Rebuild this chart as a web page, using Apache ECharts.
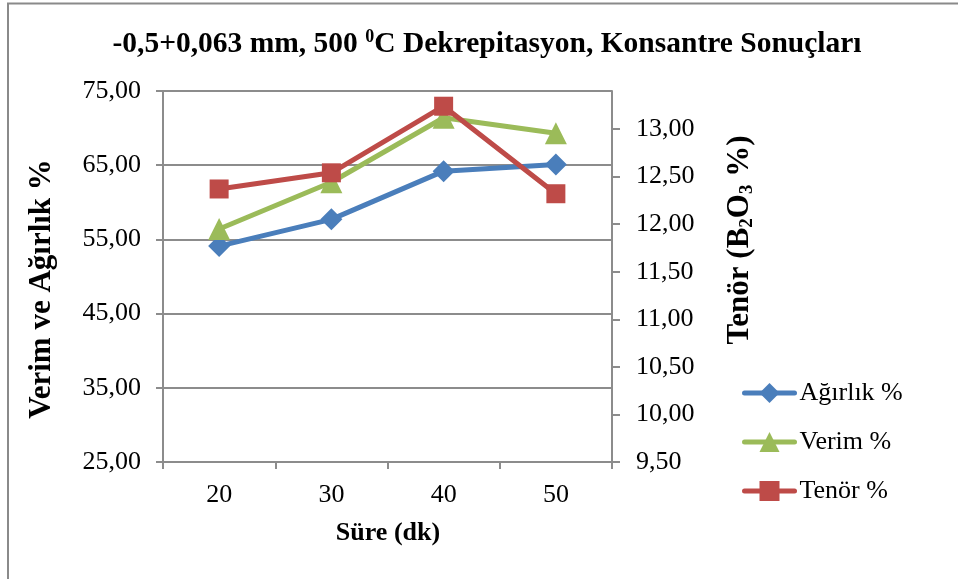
<!DOCTYPE html>
<html>
<head>
<meta charset="utf-8">
<script src="https://cdn.jsdelivr.net/npm/echarts@6/dist/echarts.min.js"></script>
<style>
  html, body { margin: 0; padding: 0; background: #fff; }
  #chart { width: 958px; height: 579px; }
</style>
</head>
<body>
<div id="chart"></div>
<script>
const categories = ['20', '30', '40', '50'];
const agirlik = [54.1, 57.7, 64.2, 65.1];
const verim = [56.4, 62.7, 71.4, 69.3];
const tenor = [12.37, 12.54, 13.24, 12.32];
const leftTicks = [25, 35, 45, 55, 65, 75];
const rightTicks = [9.5, 10, 10.5, 11, 11.5, 12, 12.5, 13];

const FONT = '"Liberation Serif", "Times New Roman", serif';
const fmt = v => Number(v).toFixed(2).replace('.', ',');

const chart = echarts.init(document.getElementById('chart'));
chart.setOption({
  backgroundColor: '#ffffff',
  animation: false,
  textStyle: { fontFamily: FONT },
  grid: { left: 163, right: 346, top: 91, bottom: 117, containLabel: false },
  graphic: [
    { type: 'rect', shape: { x: 8, y: 3.5, width: 1200, height: 1200 }, style: { fill: 'none', stroke: '#8a8a8a', lineWidth: 2 }, silent: true },
    { type: 'text', x: 487, y: 44, style: {
        text: '-0,5+0,063 mm, 500 {sup|0}C Dekrepitasyon, Konsantre Sonuçları',
        font: 'bold 29.5px ' + FONT, fill: '#000', align: 'center', verticalAlign: 'middle',
        rich: { sup: { font: 'bold 18px ' + FONT, fill: '#000', verticalAlign: 'top', padding: [0, 0, 14, 0] } }
      } },
    { type: 'text', x: 42, y: 289, rotation: Math.PI / 2, style: {
        text: 'Verim ve Ağırlık %', font: 'bold 31px ' + FONT, fill: '#000', align: 'center', verticalAlign: 'middle' } },
    { type: 'text', x: 740, y: 240, rotation: Math.PI / 2, style: {
        text: 'Tenör (B{sub|2}O{sub|3} %)', font: 'bold 31px ' + FONT, fill: '#000', align: 'center', verticalAlign: 'middle',
        rich: { sub: { font: 'bold 19px ' + FONT, fill: '#000', padding: [14, 0, 0, 0] } } } },
    { type: 'text', x: 388, y: 533, style: {
        text: 'Süre (dk)', font: 'bold 26px ' + FONT, fill: '#000', align: 'center', verticalAlign: 'middle' } }
  ],
  legend: {
    orient: 'vertical', left: 737, top: 375,
    itemWidth: 50, itemHeight: 25, itemGap: 23,
    lineStyle: { width: 5, cap: 'round' },
    textStyle: { fontFamily: FONT, fontSize: 26, color: '#000' },
    data: ['Ağırlık %', 'Verim %', 'Tenör %']
  },
  xAxis: {
    type: 'category', data: categories, boundaryGap: true,
    axisLine: { lineStyle: { color: '#8c8c8c', width: 2 } },
    axisTick: { show: true, length: 7, lineStyle: { color: '#8c8c8c', width: 2 } },
    axisLabel: { fontFamily: FONT, fontSize: 26, color: '#000', margin: 20 },
    splitLine: { show: false }
  },
  yAxis: [
    {
      type: 'value', min: 25, max: 75, interval: 10, position: 'left',
      axisLine: { show: true, lineStyle: { color: '#8c8c8c', width: 2 } },
      axisTick: { show: true, length: 7, lineStyle: { color: '#8c8c8c', width: 2 } },
      axisLabel: { fontFamily: FONT, fontSize: 26, color: '#000', margin: 22, formatter: fmt },
      splitLine: { show: true, lineStyle: { color: '#8c8c8c', width: 2 } }
    },
    {
      type: 'value', min: 9.5, max: 13.4, position: 'right',
      axisLine: { show: true, lineStyle: { color: '#8c8c8c', width: 2 } },
      axisTick: { show: true, length: 8, customValues: rightTicks, lineStyle: { color: '#8c8c8c', width: 2 } },
      axisLabel: { fontFamily: FONT, fontSize: 26, color: '#000', margin: 24, customValues: rightTicks, formatter: fmt },
      splitLine: { show: false }
    }
  ],
  series: [
    { name: 'Ağırlık %', type: 'line', yAxisIndex: 0, data: agirlik,
      symbol: 'diamond', symbolSize: 22, color: '#4a7ebb',
      lineStyle: { width: 5, color: '#4a7ebb' }, itemStyle: { color: '#4a7ebb' } },
    { name: 'Verim %', type: 'line', yAxisIndex: 0, data: verim,
      symbol: 'triangle', symbolSize: 22, color: '#9bbb59',
      lineStyle: { width: 5, color: '#9bbb59' }, itemStyle: { color: '#9bbb59' } },
    { name: 'Tenör %', type: 'line', yAxisIndex: 1, data: tenor,
      symbol: 'rect', symbolSize: 19, color: '#be4b48',
      lineStyle: { width: 5, color: '#be4b48' }, itemStyle: { color: '#be4b48' } }
  ]
});
</script>
</body>
</html>
